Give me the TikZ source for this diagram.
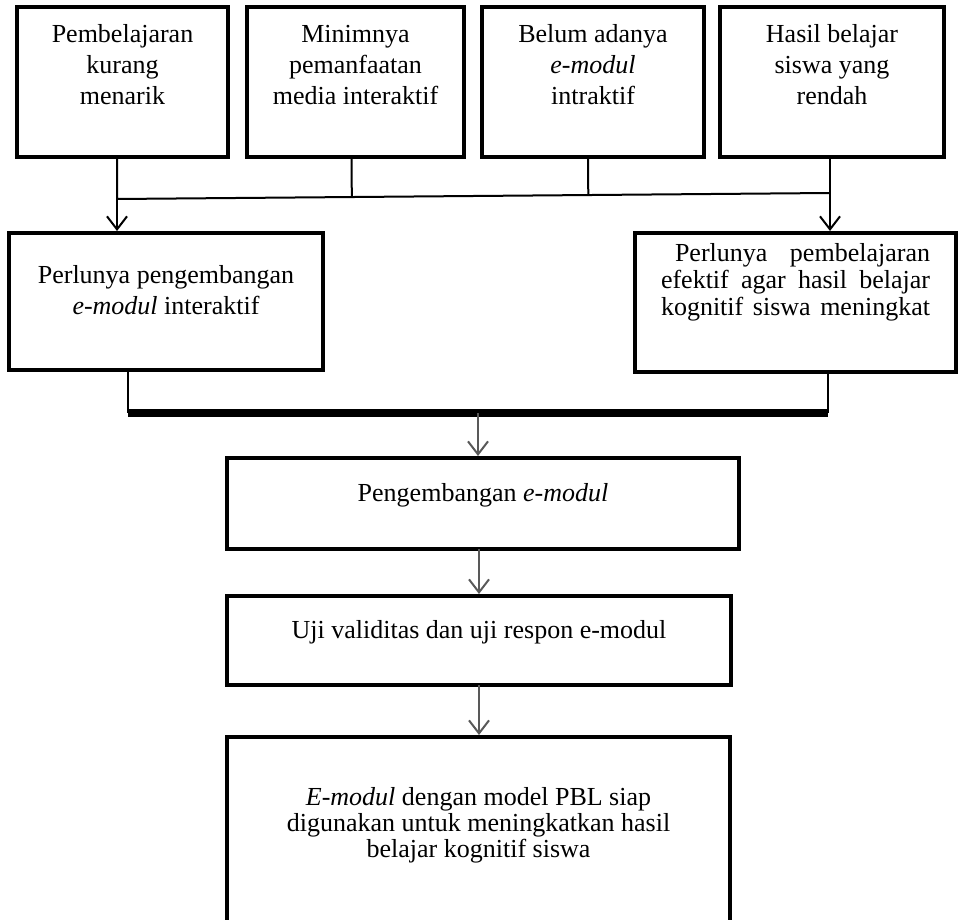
\documentclass[tikz,border=0pt]{standalone}
\usepackage{fontspec}
\setmainfont{Liberation Serif}
\usepackage{tikz}
\usetikzlibrary{positioning, arrows.meta, calc}

\newcommand{\boxisi}[4]{\parbox[c][#2][t]{#1}{\centering\vspace*{#3}#4}}

\begin{document}
\begin{tikzpicture}[x=0.5pt, y=0.5pt,
    box/.style={draw, line width=2pt, inner sep=0pt, outer sep=0pt, anchor=north west, font=\fontsize{13}{15.5}\selectfont},
    line/.style={line width=1pt},
    arrow/.style={line width=1pt, shorten >=1pt, -{Straight Barb[length=6.5pt, width=10pt]}},
    grayarrow/.style={arrow, draw=black!65},
    bar/.style={line width=4pt}]
    \useasboundingbox (0,0) rectangle (961,-919);
    \node [box] (kurang) at (17,-7) {\boxisi{105.5pt}{75pt}{7pt}{\strut Pembelajaran\\ kurang\\ menarik}};
    \node [box] (media) at (247,-7) {\boxisi{108.5pt}{75pt}{7pt}{\strut Minimnya\\ pemanfaatan\\ media interaktif}};
    \node [box] (belum) at (482,-7) {\boxisi{111pt}{75pt}{7pt}{\strut Belum adanya\\ \textit{e-modul}\\ intraktif}};
    \node [box] (hasil) at (720,-7) {\boxisi{112pt}{75pt}{7pt}{\strut Hasil belajar\\ siswa yang\\ rendah}};
    \node [box] (perlu1) at (9,-233) {\boxisi{157pt}{68.5pt}{14.5pt}{\strut Perlunya pengembangan\\ \textit{e-modul} interaktif}};
    \node [box] (perlu2) at (635,-233) {\boxisi{160.5pt}{69.5pt}{5pt}{\fontsize{13}{13.5}\selectfont\parbox[t]{134.5pt}{\strut\hspace*{7pt}Perlunya\hfill pembelajaran\\ efektif\hfill agar\hfill hasil\hfill belajar\\ kognitif\hfill siswa\hfill meningkat}}};
    \node [box] (kembang) at (227,-458) {\boxisi{256pt}{45.5pt}{11pt}{\strut Pengembangan \textit{e-modul}}};
    \node [box, below=23.5pt of kembang.south west, anchor=north west] (uji) {\boxisi{252pt}{44.5pt}{10.5pt}{\strut Uji validitas dan uji respon e-modul}};
    \node [box, below=26pt of uji.south west, anchor=north west] (siap) {\boxisi{251.5pt}{100pt}{25pt}{\fontsize{13}{13}\selectfont\strut \textit{E-modul} dengan model PBL siap\\ digunakan untuk meningkatkan hasil\\ belajar kognitif siswa}};
    \coordinate (kiri) at (117,-199);
    \coordinate (kanan) at (830,-193);
    \draw [line] (kurang.south -| kiri) -- (kiri) -- (kanan);
    \draw [line] ([xshift=-2pt]media.south) -- ($(kiri)!([xshift=-2pt]media.south)!(kanan)$);
    \draw [line] ([xshift=-2.5pt]belum.south) -- ($(kiri)!([xshift=-2.5pt]belum.south)!(kanan)$);
    \draw [line] (hasil.south -| kanan) -- (kanan);
    \draw [arrow] (kiri) -- (kiri |- perlu1.north);
    \draw [arrow] (kanan) -- (kanan |- perlu2.north);
    \coordinate (bawahkiri) at (128,-413);
    \coordinate (bawahkanan) at (828,-413);
    \coordinate (tengah) at ($(bawahkiri)!0.5!(bawahkanan)$);
    \draw [line] (perlu1.south -| bawahkiri) -- (bawahkiri);
    \draw [line] (perlu2.south -| bawahkanan) -- (bawahkanan);
    \draw [bar] (bawahkiri) -- (bawahkanan);
    \draw [grayarrow] (tengah) -- (tengah |- kembang.north);
    \draw [grayarrow] (kembang.south -| uji.north) -- (uji.north);
    \draw [grayarrow] (uji.south) -- (uji.south |- siap.north);
\end{tikzpicture}
\end{document}
